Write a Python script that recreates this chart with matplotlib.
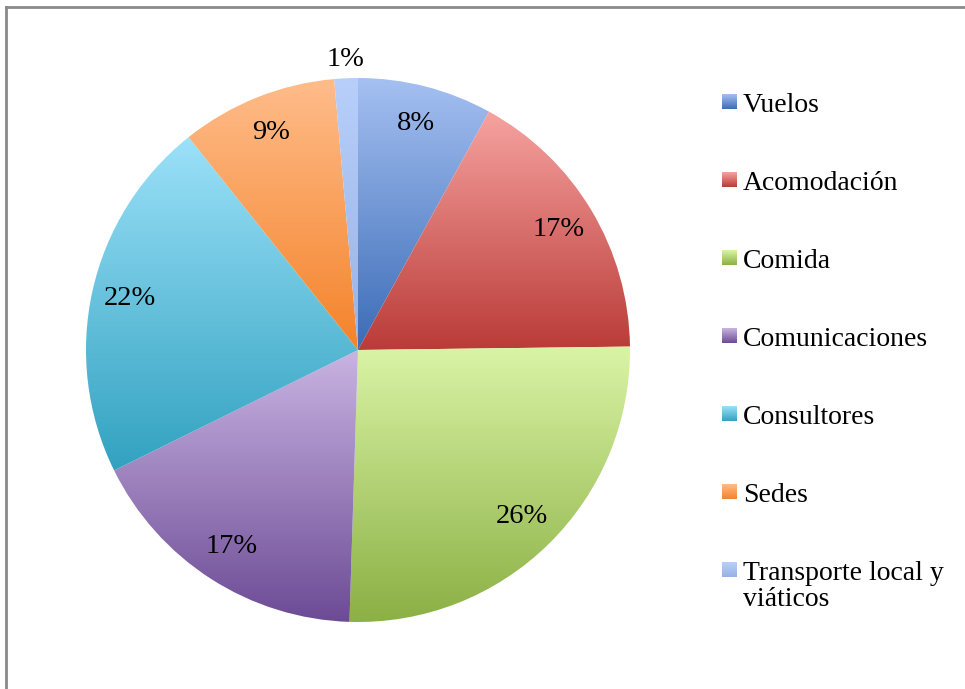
import numpy as np
import matplotlib
matplotlib.use("Agg")
import matplotlib.pyplot as plt
from matplotlib.colors import LinearSegmentedColormap
from matplotlib.lines import Line2D

categories = ["Vuelos", "Acomodación", "Comida", "Comunicaciones",
              "Consultores", "Sedes", "Transporte local y\nviáticos"]
values = [8.0, 16.8, 25.7, 17.2, 21.6, 9.3, 1.4]
# (light top, dark bottom) per slice
top_colors = ["#A5C0F2", "#F6A3A0", "#DAF4A6", "#C9B4E2", "#9CE1F9", "#FFBC8A", "#B8CFFB"]
bot_colors = ["#3B6CB6", "#BA3B38", "#8BB044", "#6C4B95", "#32A2C0", "#F4832A", "#98B2E4"]

FONT = "Liberation Serif"
W, H = 965, 689
fig = plt.figure(figsize=(W / 100, H / 100), dpi=100, facecolor="white")
ax = fig.add_axes([0, 0, 1, 1])

cx, cy, R = 358, H - 350, 272
wedges, _ = ax.pie(values, center=(cx, cy), radius=R, startangle=90,
                   counterclock=False, wedgeprops=dict(linewidth=0))

grad = np.linspace(1, 0, 256).reshape(-1, 1)
for w, c0, c1 in zip(wedges, top_colors, bot_colors):
    cmap = LinearSegmentedColormap.from_list("g", [c1, c0])
    ext = w.get_path().get_extents(w.get_transform() - ax.transData)
    w.set_facecolor("none")
    im = ax.imshow(1 - grad, cmap=cmap, vmin=0, vmax=1, aspect="auto",
                   extent=[ext.x0, ext.x1, ext.y0, ext.y1], origin="lower",
                   zorder=1)
    im.set_clip_path(w)

# percentage labels
total = sum(values)
for w, v in zip(wedges, values):
    mid = np.deg2rad((w.theta1 + w.theta2) / 2)
    d = 1.07 if v < 3 else 0.86
    ax.text(cx + d * R * np.cos(mid), cy + d * R * np.sin(mid),
            f"{round(v / total * 100):.0f}%", ha="center", va="center",
            fontsize=20.5, family=FONT, color="black", zorder=3)

# legend
for i, (name, c0, c1) in enumerate(zip(categories, top_colors, bot_colors)):
    y = H - (101.5 + i * 78)
    cmap = LinearSegmentedColormap.from_list("g", [c1, c0])
    ax.imshow(grad[::-1], cmap=cmap, vmin=0, vmax=1, aspect="auto",
              extent=[722, 737, y - 7.5, y + 7.5], origin="lower", zorder=2)
    ax.text(743, y + 9, name, ha="left", va="top", fontsize=20,
            family=FONT, color="black", linespacing=1.1)

ax.set_xlim(0, W)
ax.set_ylim(0, H)
ax.set_aspect("equal")
ax.axis("off")

# frame (top and left edges visible)
fig.add_artist(Line2D([5.5 / W, 1], [1 - 6.5 / H, 1 - 6.5 / H], color="#8a8a8a", lw=2))
fig.add_artist(Line2D([5.5 / W, 5.5 / W], [0, 1 - 6.5 / H], color="#8a8a8a", lw=2))

fig.savefig("out.png", dpi=100, facecolor="white")
